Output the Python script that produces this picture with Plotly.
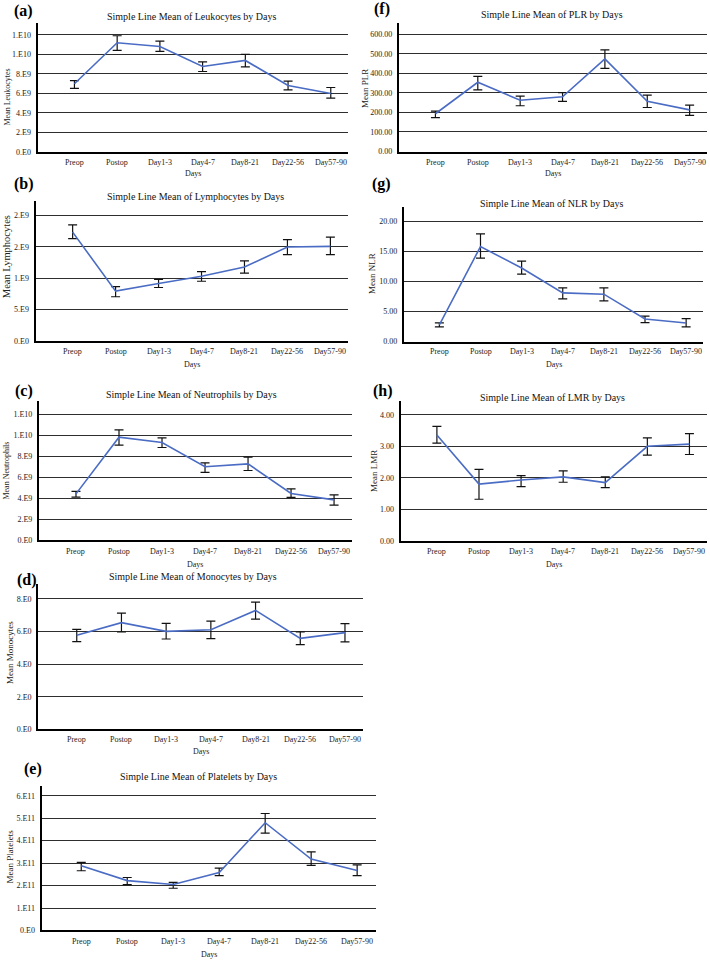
import plotly.graph_objects as go

days = ["Preop", "Postop", "Day1-3", "Day4-7", "Day8-21", "Day22-56", "Day57-90"]

# means with upper / lower ends of error bars
leuko_mean = [6.98e9, 11.18e9, 10.8e9, 8.75e9, 9.37e9, 6.8e9, 5.98e9]
leuko_hi = [7.3e9, 11.9e9, 11.35e9, 9.23e9, 10.0e9, 7.25e9, 6.6e9]
leuko_lo = [6.5e9, 10.4e9, 10.3e9, 8.24e9, 8.72e9, 6.36e9, 5.5e9]

lympho_mean = [1.737e9, 0.795e9, 0.916e9, 1.032e9, 1.179e9, 1.5e9, 1.51e9]
lympho_hi = [1.853e9, 0.868e9, 0.984e9, 1.105e9, 1.279e9, 1.616e9, 1.658e9]
lympho_lo = [1.632e9, 0.705e9, 0.853e9, 0.953e9, 1.084e9, 1.379e9, 1.379e9]

neutro_mean = [4.44e9, 9.84e9, 9.33e9, 7.02e9, 7.3e9, 4.48e9, 3.87e9]
neutro_hi = [4.67e9, 10.54e9, 9.78e9, 7.4e9, 7.94e9, 4.92e9, 4.35e9]
neutro_lo = [4.13e9, 9.08e9, 8.86e9, 6.48e9, 6.67e9, 4.1e9, 3.37e9]

mono_mean = [5.77, 6.54, 6.01, 6.11, 7.29, 5.58, 5.93]
mono_hi = [6.13, 7.13, 6.5, 6.64, 7.8, 5.97, 6.48]
mono_lo = [5.38, 5.97, 5.54, 5.56, 6.76, 5.2, 5.36]

plt_mean = [2.88e11, 2.22e11, 2.05e11, 2.58e11, 4.8e11, 3.18e11, 2.67e11]
plt_hi = [3.03e11, 2.36e11, 2.14e11, 2.78e11, 5.21e11, 3.5e11, 2.92e11]
plt_lo = [2.66e11, 2.04e11, 1.88e11, 2.44e11, 4.34e11, 2.9e11, 2.44e11]

plr_mean = [193, 354, 262, 280, 473, 257, 213]
plr_hi = [206, 384, 283, 301, 519, 288, 237]
plr_lo = [173, 315, 234, 256, 425, 225, 185]

nlr_mean = [2.75, 15.77, 12.2, 8.08, 7.86, 3.74, 3.08]
nlr_hi = [3.08, 17.86, 13.35, 8.9, 8.9, 4.23, 3.79]
nlr_lo = [2.42, 13.85, 11.2, 7.09, 6.76, 3.13, 2.42]

lmr_mean = [3.36, 1.8, 1.93, 2.03, 1.85, 3.0, 3.07]
lmr_hi = [3.63, 2.27, 2.07, 2.22, 2.03, 3.27, 3.4]
lmr_lo = [3.1, 1.32, 1.72, 1.86, 1.69, 2.72, 2.74]

# y tick labels as printed
e10_ticks = [0, 2e9, 4e9, 6e9, 8e9, 10e9, 12e9]
e10_text = ["0.E0", "2.E9", "4.E9", "6.E9", "8.E9", "1.E10", "1.E10"]
lympho_ticks = [0, 0.5e9, 1e9, 1.5e9, 2e9]
lympho_text = ["0.E0", "5.E9", "1.E9", "2.E9", "2.E9"]
mono_ticks = [0, 2, 4, 6, 8]
mono_text = ["0.E0", "2.E0", "4.E0", "6.E0", "8.E0"]
plt_ticks = [0, 1e11, 2e11, 3e11, 4e11, 5e11, 6e11]
plt_text = ["0.E0", "1.E11", "2.E11", "3.E11", "4.E11", "5.E11", "6.E11"]
plr_ticks = [0, 100, 200, 300, 400, 500, 600]
plr_text = ["0.00", "100.00", "200.00", "300.00", "400.00", "500.00", "600.00"]
nlr_ticks = [0, 5, 10, 15, 20]
nlr_text = ["0.00", "5.00", "10.00", "15.00", "20.00"]
lmr_ticks = [0, 1, 2, 3, 4]
lmr_text = ["0.00", "1.00", "2.00", "3.00", "4.00"]

W, H = 710, 964
SERIF = "Liberation Serif, Times New Roman, serif"

fig = go.Figure()
annotations = []


def px_x(p):
    return p / W


def px_y(p):
    return 1 - p / H


def add_panel(n, letter, name, ytitle, mean, hi, lo, ticks, text, ymax,
              box, title_pos, letter_pos, ytitle_pos, ytitle_size, xlab_y, days_y):
    left, top, right, bottom = box
    xa = "x" if n == 1 else f"x{n}"
    ya = "y" if n == 1 else f"y{n}"
    fig.add_trace(go.Scatter(
        x=days, y=mean, mode="lines", xaxis=xa, yaxis=ya,
        line=dict(color="#4a6cc4", width=1.6),
        error_y=dict(type="data", symmetric=False,
                     array=[h - m for h, m in zip(hi, mean)],
                     arrayminus=[m - l for m, l in zip(mean, lo)],
                     color="#111111", thickness=1.2, width=4.5),
        showlegend=False, hoverinfo="skip"))
    xkey = "xaxis" if n == 1 else f"xaxis{n}"
    ykey = "yaxis" if n == 1 else f"yaxis{n}"
    fig.update_layout({
        xkey: dict(domain=[px_x(left), px_x(right)], anchor=ya, type="category",
                   range=[-0.86, 6.41], showgrid=False, zeroline=False,
                   showline=True, linecolor="black", linewidth=2.2,
                   showticklabels=False, ticks=""),
        ykey: dict(domain=[px_y(bottom), px_y(top)], anchor=xa, range=[0, ymax],
                   tickvals=ticks, ticktext=text, showgrid=True,
                   gridcolor="#2e2e2e", gridwidth=1.3, zeroline=False,
                   showline=True, linecolor="black", linewidth=2.2, ticks="",
                   ticklabelstandoff=3,
                   tickfont=dict(family=SERIF, size=8, color="#222222")),
    })
    # x tick labels as annotations in data coords
    for d in days:
        annotations.append(dict(x=d, y=px_y(xlab_y), xref=xa, yref="paper", text=d,
                                showarrow=False, xanchor="center", yanchor="middle",
                                font=dict(family=SERIF, size=8, color="#222222")))
    annotations.append(dict(x=(px_x(left) + px_x(right)) / 2, y=px_y(days_y),
                            xref="paper", yref="paper", text="Days", showarrow=False,
                            xanchor="center", yanchor="middle",
                            font=dict(family=SERIF, size=8, color="#222222")))
    annotations.append(dict(x=px_x(title_pos[0]), y=px_y(title_pos[1]), xref="paper",
                            yref="paper", text=f"Simple Line Mean of {name} by Days",
                            showarrow=False, xanchor="center", yanchor="middle",
                            font=dict(family=SERIF, size=10, color="#111111")))
    annotations.append(dict(x=px_x(letter_pos[0]), y=px_y(letter_pos[1]), xref="paper",
                            yref="paper", text=f"<b>({letter})</b>", showarrow=False,
                            xanchor="center", yanchor="middle",
                            font=dict(family=SERIF, size=16, color="black")))
    annotations.append(dict(x=px_x(ytitle_pos[0]), y=px_y(ytitle_pos[1]), xref="paper",
                            yref="paper", text=ytitle, textangle=-90, showarrow=False,
                            xanchor="center", yanchor="middle",
                            font=dict(family=SERIF, size=ytitle_size, color="#222222")))


add_panel(1, "a", "Leukocytes", "Mean Leukocytes", leuko_mean, leuko_hi, leuko_lo,
          e10_ticks, e10_text, 13.25e9, (37.7, 22.7, 348.3, 152.7),
          (191.7, 17), (24, 11), (7, 98), 8, 163, 174.5)
add_panel(2, "b", "Lymphocytes", "Mean Lymphocytes", lympho_mean, lympho_hi, lympho_lo,
          lympho_ticks, lympho_text, 2.23e9, (35.7, 202.3, 348, 342.7),
          (195, 197.5), (24, 185), (6.5, 258), 10.5, 353.5, 366)
add_panel(3, "c", "Neutrophils", "Mean Neutrophils", neutro_mean, neutro_hi, neutro_lo,
          e10_ticks, e10_text, 13.27e9, (39, 403.3, 351.7, 543.3),
          (191.7, 396.7), (24, 393), (7, 473), 8, 554.5, 567)
add_panel(4, "d", "Monocytes", "Mean Monocytes", mono_mean, mono_hi, mono_lo,
          mono_ticks, mono_text, 8.93, (38.3, 586.7, 363.3, 733.3),
          (193.3, 580), (27, 583), (9.5, 656), 9, 743.5, 755)
add_panel(5, "e", "Platelets", "Mean Platelets", plt_mean, plt_hi, plt_lo,
          plt_ticks, plt_text, 6.44e11, (41.7, 790, 376, 935.3),
          (198.3, 781), (33, 773), (10, 861), 9, 946, 959)
add_panel(6, "f", "PLR", "Mean PLR", plr_mean, plr_hi, plr_lo,
          plr_ticks, plr_text, 659, (399, 22.7, 707, 152.3),
          (551.7, 14.7), (382.5, 9), (364.5, 89), 9, 163, 174.5)
add_panel(7, "g", "NLR", "Mean NLR", nlr_mean, nlr_hi, nlr_lo,
          nlr_ticks, nlr_text, 22.3, (404, 208.3, 703, 343.3),
          (551.7, 204.3), (382, 185), (371.5, 275), 9, 353.5, 366)
add_panel(8, "h", "LMR", "Mean LMR", lmr_mean, lmr_hi, lmr_lo,
          lmr_ticks, lmr_text, 4.43, (400.7, 403.3, 706.7, 543.7),
          (552.3, 399.3), (383, 393), (373.5, 474), 9, 554.5, 567)

fig.update_layout(
    width=W, height=H,
    margin=dict(l=0, r=0, t=0, b=0),
    paper_bgcolor="white", plot_bgcolor="white",
    annotations=annotations,
)

# drop the default page margin so the 710x964 figure fits the window exactly
fig.write_html("out.html", config={"displayModeBar": False},
               post_script="document.body.style.margin='0';")
